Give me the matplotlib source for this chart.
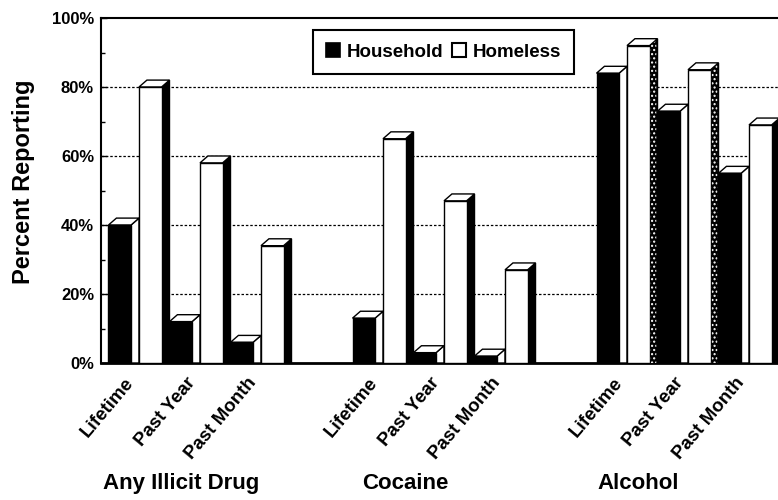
import matplotlib
matplotlib.use('Agg')
import matplotlib.pyplot as plt
from matplotlib.patches import Polygon, Patch

plt.rcParams['font.family'] = ['Liberation Sans', 'DejaVu Sans']
plt.rcParams['font.weight'] = 'bold'

# survey results, percent reporting use
groups = ['Any Illicit Drug', 'Cocaine', 'Alcohol']
periods = ['Lifetime', 'Past Year', 'Past Month']
household = [40, 12, 6, 13, 3, 2, 84, 73, 55]
homeless = [80, 58, 34, 65, 47, 27, 92, 85, 69]

# one slot per period, with an empty slot between groups
slots = [g * 4 + p for g in range(len(groups)) for p in range(len(periods))]

W = 0.37      # front face width
DX = 0.13     # depth offset in x
DY = 2.0      # depth offset in y (percent)


def bar3d(ax, x, h, front, side, top, side_hatch=None):
    ax.add_patch(Polygon([(x + W, 0), (x + W + DX, 0), (x + W + DX, h + DY), (x + W, h)],
                         closed=True, facecolor=side, edgecolor='black', lw=1.0, zorder=3))
    if side_hatch:
        ax.add_patch(Polygon([(x + W + 0.02, 0), (x + W + DX - 0.02, 0),
                              (x + W + DX - 0.02, h + DY - 0.5), (x + W + 0.02, h)],
                             closed=True, facecolor='none', edgecolor='white', lw=0,
                             hatch=side_hatch, zorder=3.1))
    ax.add_patch(Polygon([(x, h), (x + W, h), (x + W + DX, h + DY), (x + DX, h + DY)],
                         closed=True, facecolor=top, edgecolor='black', lw=1.0, zorder=3))
    ax.add_patch(Polygon([(x, 0), (x + W, 0), (x + W, h), (x, h)],
                         closed=True, facecolor=front, edgecolor='black', lw=1.0, zorder=3))


fig = plt.figure(figsize=(7.78, 5.0), dpi=100)
ax = fig.add_axes([0.1298, 0.274, 0.8702, 0.69])

for k, s in enumerate(slots):
    bar3d(ax, s - 0.5, household[k], 'black', 'white', 'white')
    hatch = '....' if k in (6, 7) else None
    bar3d(ax, s, homeless[k], 'white', 'black', 'white', side_hatch=hatch)

ax.set_xlim(-0.623, 10.475)
ax.set_ylim(0, 100)

ax.set_yticks(range(0, 101, 20))
ax.set_yticks(range(10, 100, 20), minor=True)
ax.set_yticklabels([f'{v}%' for v in range(0, 101, 20)], fontsize=12, fontweight='bold')
ax.tick_params(axis='y', which='major', direction='in', length=4, width=1, pad=5)
ax.tick_params(axis='y', which='minor', direction='in', length=3, width=1)
ax.set_xticks([])

for v in range(20, 100, 20):
    ax.axhline(v, color='black', lw=0.9, linestyle=(0, (2, 1.5)), zorder=1)

for side in ('left', 'top'):
    ax.spines[side].set_linewidth(1.5)
ax.spines['bottom'].set_linewidth(2)
ax.spines['right'].set_visible(False)

# period labels under each pair of bars
xt = ax.get_xaxis_transform()
for k, s in enumerate(slots):
    ax.text(s - 0.13, -0.048, periods[k % 3], transform=xt, rotation=50,
            rotation_mode='anchor', ha='right', va='center',
            fontsize=13.5, fontweight='bold')

for x, name in zip([0.69, 4.36, 8.18], groups):
    ax.text(x, -0.348, name, transform=xt, ha='center', va='center',
            fontsize=16, fontweight='bold')

fig.text(24 / 778, 318 / 500, 'Percent Reporting', rotation=90, ha='center', va='center',
         fontsize=17, fontweight='bold')

handles = [Patch(facecolor='black', edgecolor='black', lw=1.2),
           Patch(facecolor='white', edgecolor='black', lw=1.5)]
leg = ax.legend(handles, ['Household', 'Homeless'], ncol=2, loc='upper left',
                bbox_to_anchor=(0.313, 0.965), prop={'size': 13.5, 'weight': 'bold'},
                handlelength=0.75, handleheight=0.75, handletextpad=0.35,
                columnspacing=0.45, borderpad=0.7, borderaxespad=0,
                fancybox=False, framealpha=1)
leg.get_frame().set_edgecolor('black')
leg.get_frame().set_linewidth(1.5)
leg.set_zorder(5)

fig.savefig('out.png', dpi=100)
